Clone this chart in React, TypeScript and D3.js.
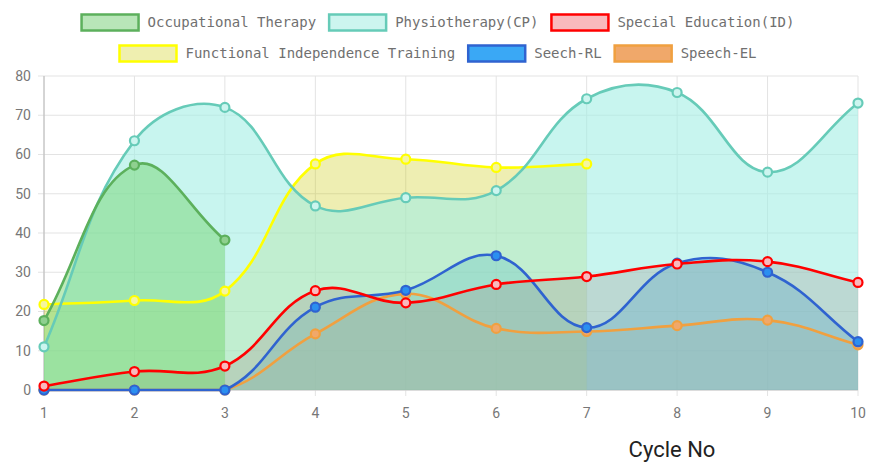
import React, { useEffect, useRef } from 'react';
import * as d3 from 'd3';

const cycles = [1, 2, 3, 4, 5, 6, 7, 8, 9, 10];
const seriesNames = [
  'Occupational Therapy',
  'Physiotherapy(CP)',
  'Special Education(ID)',
  'Functional Independence Training',
  'Seech-RL',
  'Speech-EL',
];
const occupational = [17.7, 57.3, 38.2];
const physio = [11.0, 63.5, 72.0, 46.9, 49.0, 50.8, 74.2, 75.8, 55.5, 73.1];
const specialEd = [1.0, 4.7, 6.1, 25.3, 22.2, 26.9, 28.9, 32.1, 32.7, 27.4];
const functional = [21.8, 22.8, 25.2, 57.6, 58.8, 56.7, 57.6];
const speechRL = [0, 0, 0, 21.1, 25.4, 34.2, 15.9, 32.3, 30.0, 12.3];
const speechEL = [0, 0, 0, 14.3, 24.5, 15.7, 14.9, 16.4, 17.8, 11.5];
const yTicks = [0, 10, 20, 30, 40, 50, 60, 70, 80];
const xTitle = 'Cycle No';

const lineColors = ['#5cb05c', '#66cbb8', '#ff0000', '#ffff00', '#2f63d0', '#f0a040'];
const fillColors = [
  'rgba(108,211,102,0.45)',
  'rgba(163,238,228,0.6)',
  'rgba(150,0,0,0.28)',
  'rgba(200,200,0,0.3)',
  'rgba(0,130,220,0.45)',
  'rgba(230,140,50,0.3)',
];
const swatchColors = ['#b8e6b8', '#ccf5ef', '#f9b9bd', '#efefb0', '#3aa8f5', '#f0a86a'];
const pointColors = ['#8fd08f', '#ccf5ef', '#f9b9bd', '#f5f5a0', '#2b8ff0', '#f0a86a'];

const TENSION = 0.4;

function App() {
  const ref = useRef<HTMLDivElement>(null);

  useEffect(() => {
    const el = ref.current;
    if (!el) return;
    el.innerHTML = '';
    const width = 874;
    const height = 472;
    const svg = d3.select(el).append('svg').attr('width', width).attr('height', height)
      .style('display', 'block');

    const x = d3.scaleLinear().domain([1, 10]).range([44, 858]);
    const y = d3.scaleLinear().domain([0, 80]).range([390, 76]);

    // grid
    const grid = svg.append('g');
    grid.selectAll('line.h').data(yTicks).enter().append('line')
      .attr('x1', 38).attr('x2', 858)
      .attr('y1', d => y(d)).attr('y2', d => y(d))
      .attr('stroke', '#e3e3e3').attr('stroke-width', 1);
    grid.selectAll('line.v').data(cycles).enter().append('line')
      .attr('x1', d => x(d)).attr('x2', d => x(d))
      .attr('y1', 76).attr('y2', 396)
      .attr('stroke', '#e3e3e3').attr('stroke-width', 1);
    grid.append('line').attr('x1', 44).attr('x2', 44).attr('y1', 76).attr('y2', 396)
      .attr('stroke', '#b8b8b8');
    grid.append('line').attr('x1', 38).attr('x2', 858).attr('y1', 390).attr('y2', 390)
      .attr('stroke', '#c8c8c8');

    svg.append('g').selectAll('text').data(yTicks).enter().append('text')
      .attr('x', 31).attr('y', d => y(d)).attr('dy', '0.35em')
      .attr('text-anchor', 'end').attr('fill', '#777')
      .style('font', '14px Roboto').text(d => d);
    svg.append('g').selectAll('text').data(cycles).enter().append('text')
      .attr('x', d => x(d)).attr('y', 418)
      .attr('text-anchor', 'middle').attr('fill', '#777')
      .style('font', '14px Roboto').text(d => d);
    svg.append('text').attr('x', 672).attr('y', 457).attr('text-anchor', 'middle')
      .attr('fill', '#222').style('font', '22px Roboto').text(xTitle);

    const data = [occupational, physio, specialEd, functional, speechRL, speechEL];

    // chart.js style spline with capped control points
    const [left, right] = x.range();
    const [bottom, top] = y.range();
    const clampX = (v: number) => Math.max(left, Math.min(right, v));
    const clampY = (v: number) => Math.max(top, Math.min(bottom, v));
    const spline = (vals: number[]) => {
      const pts = vals.map((v, i) => ({ x: x(cycles[i]), y: y(v) }));
      return pts.map((p, i) => {
        const prev = pts[i - 1] || p;
        const next = pts[i + 1] || p;
        const d01 = Math.hypot(p.x - prev.x, p.y - prev.y);
        const d12 = Math.hypot(next.x - p.x, next.y - p.y);
        let s01 = d01 / (d01 + d12);
        let s12 = d12 / (d01 + d12);
        if (isNaN(s01)) s01 = 0;
        if (isNaN(s12)) s12 = 0;
        const fa = TENSION * s01;
        const fb = TENSION * s12;
        return {
          x: p.x,
          y: p.y,
          px: clampX(p.x - fa * (next.x - prev.x)),
          py: clampY(p.y - fa * (next.y - prev.y)),
          nx: clampX(p.x + fb * (next.x - prev.x)),
          ny: clampY(p.y + fb * (next.y - prev.y)),
        };
      });
    };
    const linePath = (vals: number[], closed: boolean) => {
      const pts = spline(vals);
      const p = d3.path();
      p.moveTo(pts[0].x, pts[0].y);
      for (let i = 1; i < pts.length; i++) {
        p.bezierCurveTo(pts[i - 1].nx, pts[i - 1].ny, pts[i].px, pts[i].py, pts[i].x, pts[i].y);
      }
      if (closed) {
        p.lineTo(pts[pts.length - 1].x, y(0));
        p.lineTo(pts[0].x, y(0));
        p.closePath();
      }
      return p.toString();
    };

    // fills first (last dataset at bottom), then lines and points
    for (let s = data.length - 1; s >= 0; s--) {
      svg.append('path').attr('d', linePath(data[s], true)).attr('fill', fillColors[s]);
    }
    for (let s = data.length - 1; s >= 0; s--) {
      const g = svg.append('g');
      g.append('path').attr('d', linePath(data[s], false)).attr('fill', 'none')
        .attr('stroke', lineColors[s]).attr('stroke-width', 2.6);
      g.selectAll('circle').data(data[s]).enter().append('circle')
        .attr('cx', (_, i) => x(cycles[i])).attr('cy', d => y(d)).attr('r', 4.5)
        .attr('fill', pointColors[s]).attr('stroke', lineColors[s]).attr('stroke-width', 2.2);
    }

    // legend
    const legend = svg.append('g');
    const boxW = 57;
    const boxH = 16;
    const gap = 9;
    const itemGap = 13;
    const rows: { idx: number; w: number }[][] = [[]];
    let rowW = 0;
    seriesNames.forEach((name, i) => {
      const t = legend.append('text').style('font', '14px "DejaVu Sans Mono"').text(name);
      const tw = (t.node() as SVGTextElement).getComputedTextLength();
      t.remove();
      const w = boxW + gap + tw;
      if (rowW > 0 && rowW + itemGap + w > 760) {
        rows.push([]);
        rowW = 0;
      }
      rows[rows.length - 1].push({ idx: i, w });
      rowW += (rowW > 0 ? itemGap : 0) + w;
    });
    rows.forEach((row, r) => {
      const total = d3.sum(row, d => d.w) + itemGap * (row.length - 1);
      let cx = width / 2 - total / 2 + 1;
      const cy = 14.5 + r * 31;
      row.forEach(item => {
        legend.append('rect').attr('x', cx).attr('y', cy).attr('width', boxW).attr('height', boxH)
          .attr('fill', swatchColors[item.idx]).attr('stroke', lineColors[item.idx])
          .attr('stroke-width', 2.5);
        legend.append('text').attr('x', cx + boxW + gap).attr('y', cy + boxH / 2)
          .attr('dy', '0.35em').attr('fill', '#707070')
          .style('font', '14px "DejaVu Sans Mono"').text(seriesNames[item.idx]);
        cx += item.w + itemGap;
      });
    });
  }, []);

  return <div ref={ref} style={{ margin: -8, width: 874, height: 472 }}></div>;
}

export default App;
